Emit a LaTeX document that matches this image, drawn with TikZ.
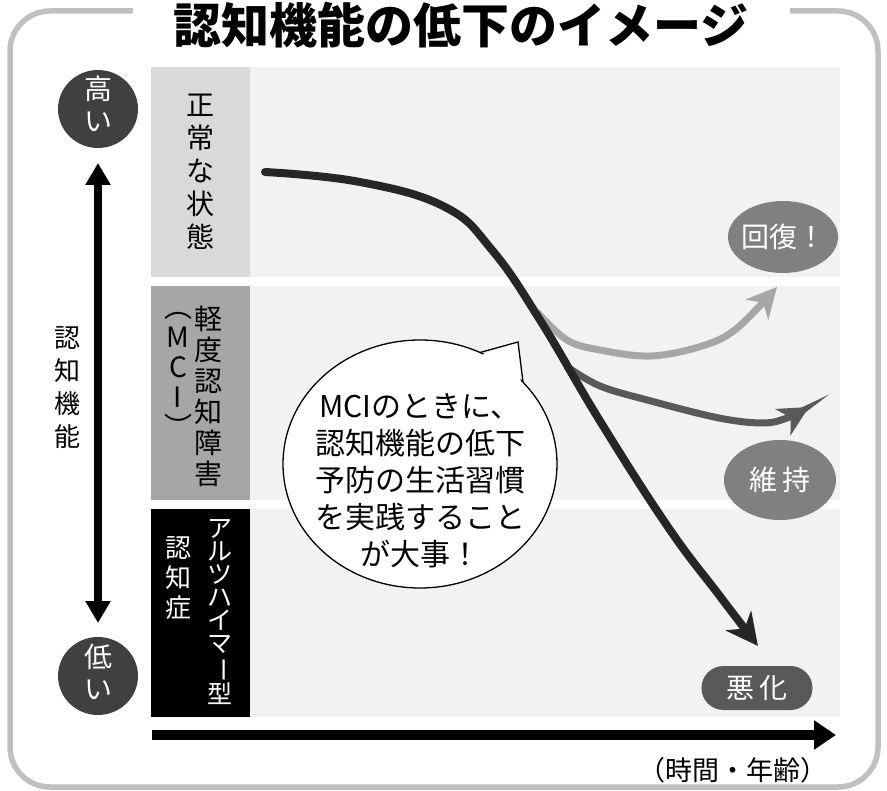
\documentclass[tikz,border=0pt]{standalone}
\usepackage{fontspec}
\usepackage{graphicx}
\setmainfont{Noto Sans CJK JP}
\usetikzlibrary{arrows.meta,shapes.geometric}
\definecolor{framegray}{HTML}{C0C0C0}
\definecolor{bandbg}{HTML}{F2F2F2}
\definecolor{lab1}{HTML}{D9D9D9}
\definecolor{lab2}{HTML}{A6A6A6}
\definecolor{circdark}{HTML}{404040}
\definecolor{curveblack}{HTML}{262626}
\definecolor{curvelight}{HTML}{A6A6A6}
\definecolor{curvemid}{HTML}{595959}
\definecolor{pillgray}{HTML}{808080}
\definecolor{pilldark}{HTML}{595959}
\tikzset{
  vtext/.style={align=center, inner sep=0pt},
  endcirc/.style={ellipse, fill=circdark, minimum width=80pt, minimum height=78pt, inner sep=0pt},
  resultlab/.style={text=white, inner sep=0pt, font=\fontsize{28}{28}\selectfont},
}
\begin{document}
\begin{tikzpicture}[x=1pt,y=-1pt]
\useasboundingbox (0,0) rectangle (887,791);
% frame
\draw[framegray, line width=5.5pt, rounded corners=40pt] (10,11) rectangle (878,787);
\fill[white] (133,0) rectangle (790,22);
\node[font=\fontsize{48}{48}\selectfont\bfseries, inner sep=0pt] (title) at (461,25) {認知機能の低下のイメージ};
% bands
\fill[bandbg] (250,67) rectangle (840,277);
\fill[bandbg] (250,286) rectangle (840,500);
\fill[bandbg] (250,509) rectangle (840,717);
\fill[lab1] (151,67) rectangle (250,277);
\fill[lab2] (151,286) rectangle (250,500);
\fill[black] (151,509) rectangle (250,717);
% band labels
\node[vtext, font=\fontsize{28}{33}\selectfont] (normal) at (200,172) {正\\常\\な\\状\\態};
\node[vtext, font=\fontsize{28}{31}\selectfont] (mild) at (208,396) {軽\\度\\認\\知\\障\\害};
\node[vtext, font=\fontsize{28}{30}\selectfont] (mci) at (178,375) {︵\\M\\C\\I\\︶};
\node[vtext, text=white, font=\fontsize{25}{23}\selectfont] (alz) at (220,612) {ア\\ル\\ツ\\ハ\\イ\\マ\\\rotatebox[origin=c]{-90}{ー}\\型};
\node[vtext, text=white, font=\fontsize{26}{30}\selectfont] (dem) at (178,578) {認\\知\\症};
% vertical axis
\node[endcirc] (high) at (98,109) {};
\node[vtext, text=white, font=\fontsize{28}{32}\selectfont] (hightext) at (98,104) {高\\い};
\node[endcirc] (low) at (98,676) {};
\node[vtext, text=white, font=\fontsize{28}{32}\selectfont] (lowtext) at (98,672) {低\\い};
\coordinate (vtop) at (98,163);
\coordinate (vbot) at (98,623);
\draw[line width=8pt, {Triangle[length=22pt,width=24pt]}-{Triangle[length=22pt,width=24pt]}] (vtop) -- (vbot);
\node[vtext, font=\fontsize{26}{33}\selectfont] (axisy) at (67,388) {認\\知\\機\\能};
% horizontal axis
\coordinate (hstart) at (152,735);
\coordinate (hend) at (836,735);
\draw[line width=10pt, -{Triangle[length=22pt,width=28pt]}] (hstart) -- (hend);
\node[font=\fontsize{27}{27}\selectfont, inner sep=0pt] (time) at (733,770) {（時間・年齢）};
% curves
\draw[curvelight, line width=7pt, -{Stealth[length=30pt,width=30pt,inset=9pt]}]
  plot[smooth, tension=0.6] coordinates {(537,312) (567,340) (600,350) (651,356) (702,346) (736,329) (777,287)};
\draw[curvemid, line width=7pt, -{Stealth[length=30pt,width=30pt,inset=9pt]}]
  plot[smooth, tension=0.6] coordinates {(566,366) (600,386) (651,401) (719,418) (763,423) (787,418) (809,407)};
\draw[curveblack, line width=8pt, line cap=round, -{Stealth[length=32pt,width=32pt,inset=10pt]}]
  plot[smooth, tension=0.7] coordinates {(265,172) (360,182) (445,207) (492,250) (540,320) (600,421) (668,527) (719,595) (758,646)};
% result labels
\node[ellipse, fill=pillgray, minimum width=110pt, minimum height=72pt] (recover) at (783,237) {};
\node[resultlab] (recovertext) at (783,237) {回復！};
\node[ellipse, fill=pillgray, minimum width=112pt, minimum height=80pt] (maintain) at (780,480) {};
\node[resultlab] (maintaintext) at (780,480) {維\,持};
\node[rectangle, rounded corners=22pt, fill=pilldark, minimum width=111pt, minimum height=44pt] (worse) at (757,688) {};
\node[resultlab] (worsetext) at (757,688) {悪\,化};
% speech bubble
\node[ellipse, draw=black, line width=1.3pt, fill=white, minimum width=274pt, minimum height=248pt] (bubble) at (420,464) {};
\coordinate (tailA) at (480,352.5);
\coordinate (tailTip) at (518,342);
\coordinate (tailB) at (523,382);
\fill[white] (479,356) -- (tailTip) -- (521,386) -- cycle;
\draw[line width=1.3pt, line join=miter] (tailA) -- (tailTip) -- (tailB);
\node[vtext, font=\fontsize{30}{37}\selectfont] (bubbletext) at (420,481) {MCIのときに、\\認知機能の低下\\予防の生活習慣\\を実践すること\\が大事！};
\end{tikzpicture}
\end{document}
